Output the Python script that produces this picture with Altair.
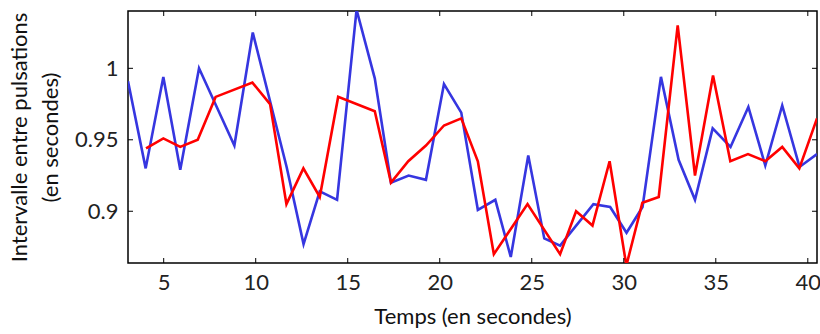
import altair as alt
import pandas as pd

# Blue series (raw intervals)
blue_t = [3.06, 4.02, 4.98, 5.90, 6.92, 8.84, 9.84, 11.68, 12.60, 13.48,
          14.42, 15.48, 16.47, 17.35, 18.31, 19.25, 20.23, 21.17, 22.07, 23.02,
          23.86, 24.81, 25.68, 26.54, 28.35, 29.26, 30.15, 31.02, 32.02, 32.98,
          33.87, 34.83, 35.80, 36.77, 37.69, 38.61, 39.55, 40.50]
blue_v = [0.991, 0.930, 0.994, 0.929, 1.000, 0.946, 1.025, 0.931, 0.877, 0.914,
          0.908, 1.041, 0.993, 0.920, 0.925, 0.922, 0.989, 0.969, 0.901, 0.908,
          0.868, 0.939, 0.881, 0.876, 0.905, 0.903, 0.885, 0.903, 0.994, 0.936,
          0.908, 0.958, 0.945, 0.973, 0.932, 0.974, 0.931, 0.940]

# Red series
red_t = [4.04, 4.98, 5.90, 6.85, 7.82, 9.82, 10.78, 11.67, 12.59, 13.48,
         14.48, 16.47, 17.35, 18.29, 19.25, 20.23, 21.17, 22.07, 22.94, 24.77,
         26.54, 27.41, 28.30, 29.23, 30.14, 31.01, 31.90, 32.93, 33.87, 34.85,
         35.79, 36.75, 37.69, 38.61, 39.54, 40.50]
red_v = [0.944, 0.951, 0.945, 0.950, 0.980, 0.990, 0.975, 0.905, 0.930, 0.910,
         0.980, 0.970, 0.920, 0.935, 0.946, 0.960, 0.965, 0.935, 0.870, 0.905,
         0.870, 0.900, 0.890, 0.935, 0.862, 0.906, 0.910, 1.030, 0.925, 0.995,
         0.935, 0.940, 0.935, 0.945, 0.930, 0.965]

x_ticks = [5, 10, 15, 20, 25, 30, 35, 40]
y_ticks = [0.9, 0.95, 1.0]

W, H = 689, 252
FONT = "Lato"
FS = 22

df = pd.concat([
    pd.DataFrame({"t": blue_t, "v": blue_v, "serie": "bleu"}),
    pd.DataFrame({"t": red_t, "v": red_v, "serie": "rouge"}),
], ignore_index=True)

xs = alt.Scale(domain=[3.06, 40.5], nice=False, zero=False)
ys = alt.Scale(domain=[0.8638, 1.0401], nice=False, zero=False)

lines = alt.Chart(df).mark_line(strokeWidth=2.6, clip=True).encode(
    x=alt.X("t:Q", scale=xs, axis=alt.Axis(
        values=x_ticks, title="Temps (en secondes)", labelPadding=9,
        titlePadding=13)),
    y=alt.Y("v:Q", scale=ys, axis=alt.Axis(
        values=y_ticks, format="~g", title=["Intervalle entre pulsations", "(en secondes)"],
        labelPadding=10, titlePadding=12, titleLineHeight=31)),
    color=alt.Color("serie:N", scale=alt.Scale(domain=["bleu", "rouge"],
                                               range=["#3636e0", "#ff0000"]), legend=None),
)

xt = pd.DataFrame({"x": x_ticks})
yt = pd.DataFrame({"y": y_ticks})
tick_style = dict(color="black", strokeWidth=1)
xb = alt.Chart(xt).mark_rule(**tick_style).encode(
    x=alt.X("x:Q", scale=xs), y=alt.value(H), y2=alt.value(H - 5))
xtop = alt.Chart(xt).mark_rule(**tick_style).encode(
    x=alt.X("x:Q", scale=xs), y=alt.value(0), y2=alt.value(5))
yl = alt.Chart(yt).mark_rule(**tick_style).encode(
    y=alt.Y("y:Q", scale=ys), x=alt.value(0), x2=alt.value(5))
yr = alt.Chart(yt).mark_rule(**tick_style).encode(
    y=alt.Y("y:Q", scale=ys), x=alt.value(W), x2=alt.value(W - 5))

chart = alt.layer(lines, xb, xtop, yl, yr).properties(
    width=W, height=H,
    autosize=alt.AutoSizeParams(type="none"),
    padding={"left": 128, "top": 11, "right": 3, "bottom": 71},
).configure_view(
    stroke="black", strokeWidth=1.5
).configure_axis(
    domain=False, ticks=False, grid=False,
    labelFont=FONT, labelFontSize=FS, labelColor="#222222",
    titleFont=FONT, titleFontSize=FS, titleFontWeight="normal", titleColor="#111111",
)

chart.save("out.html", embed_options={"renderer": "svg", "actions": False})
